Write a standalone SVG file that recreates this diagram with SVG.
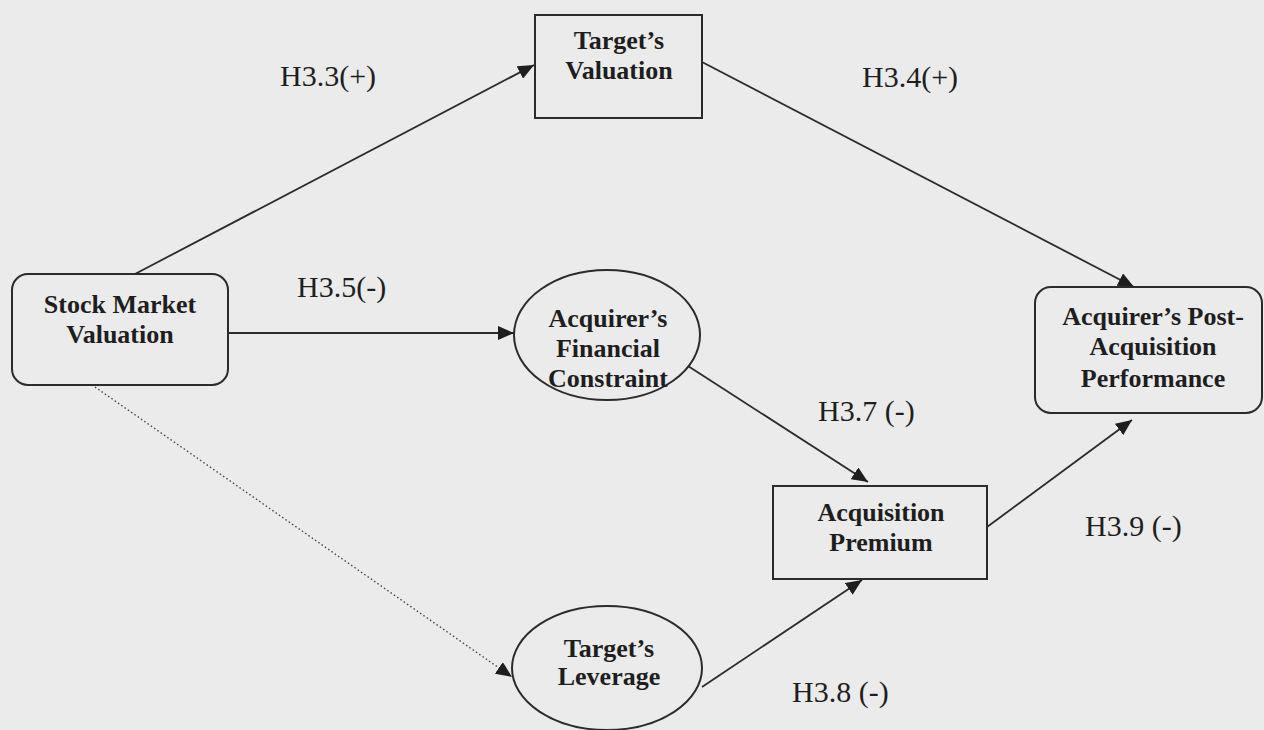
<svg xmlns="http://www.w3.org/2000/svg" width="1264" height="730" viewBox="0 0 1264 730">
<style>
.node{fill:none;stroke:#2b2b2b;stroke-width:2}
.nt{font-family:"Liberation Serif","Times New Roman",serif;font-weight:bold;font-size:26px;fill:#1e1e1e;text-anchor:middle}
.lbl{font-family:"Liberation Serif","Times New Roman",serif;font-size:30px;fill:#1e1e1e}
.edge{stroke:#2b2b2b;stroke-width:1.8;fill:none}
.dot{stroke:#444;stroke-width:1.4;stroke-dasharray:1.5 2.5;fill:none}
</style>
<defs>
<marker id="arr" markerUnits="userSpaceOnUse" markerWidth="18" markerHeight="14" refX="16" refY="7" orient="auto">
<path d="M0,0 L16,7 L0,14 Z" fill="#1e1e1e"/>
</marker>
</defs>
<rect width="1264" height="730" fill="#ebebeb"/>
<g id="connectors">
<line class="edge" x1="135" y1="274" x2="534" y2="65" marker-end="url(#arr)"/>
<line class="edge" x1="702" y1="62" x2="1134" y2="287" marker-end="url(#arr)"/>
<line class="edge" x1="228" y1="333" x2="514" y2="333" marker-end="url(#arr)"/>
<line class="dot" x1="95" y1="387" x2="512" y2="677" marker-end="url(#arr)"/>
<line class="edge" x1="688" y1="366" x2="868" y2="482" marker-end="url(#arr)"/>
<line class="edge" x1="702" y1="687" x2="862" y2="580" marker-end="url(#arr)"/>
<line class="edge" x1="987" y1="527" x2="1132" y2="420" marker-end="url(#arr)"/>
</g>
<g id="stock">
<rect class="node" x="12" y="274" width="216" height="111" rx="16"/>
<text class="nt" x="120" y="313">Stock Market</text>
<text class="nt" x="120" y="343">Valuation</text>
</g>
<g id="targetval">
<rect class="node" x="535" y="15" width="167" height="103"/>
<text class="nt" x="619" y="49">Target’s</text>
<text class="nt" x="619" y="79">Valuation</text>
</g>
<g id="fincon">
<ellipse class="node" cx="607" cy="335" rx="93" ry="65"/>
<text class="nt" x="608" y="327">Acquirer’s</text>
<text class="nt" x="608" y="357">Financial</text>
<text class="nt" x="608" y="387">Constraint</text>
</g>
<g id="post">
<rect class="node" x="1035" y="287" width="227" height="126" rx="16"/>
<text class="nt" x="1153" y="325">Acquirer’s Post-</text>
<text class="nt" x="1153" y="355">Acquisition</text>
<text class="nt" x="1153" y="387">Performance</text>
</g>
<g id="premium">
<rect class="node" x="773" y="486" width="214" height="93"/>
<text class="nt" x="881" y="521">Acquisition</text>
<text class="nt" x="881" y="551">Premium</text>
</g>
<g id="leverage">
<ellipse class="node" cx="607" cy="668" rx="95" ry="62"/>
<text class="nt" x="609" y="657">Target’s</text>
<text class="nt" x="609" y="685">Leverage</text>
</g>
<g id="labels">
<text class="lbl" x="280" y="86">H3.3(+)</text>
<text class="lbl" x="862" y="87">H3.4(+)</text>
<text class="lbl" x="297" y="297">H3.5(-)</text>
<text class="lbl" x="818" y="421">H3.7 (-)</text>
<text class="lbl" x="792" y="702">H3.8 (-)</text>
<text class="lbl" x="1085" y="536">H3.9 (-)</text>
</g>
</svg>
